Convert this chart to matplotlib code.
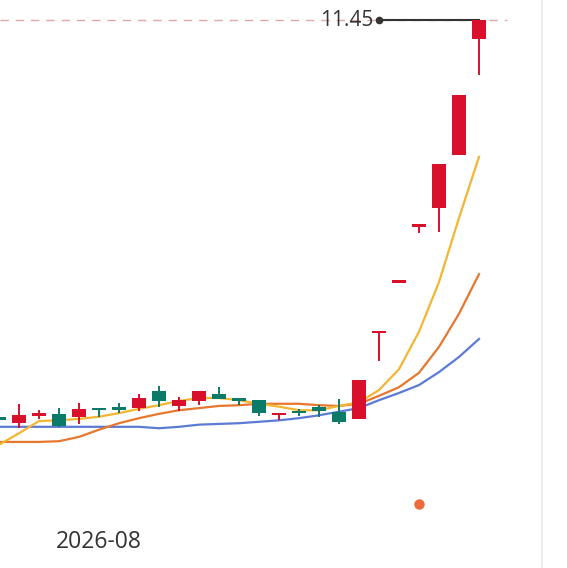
"""K-line snapshot: candles with MA5/MA10/MA20 and high marker."""
import matplotlib
matplotlib.use("Agg")
import matplotlib.pyplot as plt
import matplotlib.transforms as mtransforms
import numpy as np

# candles, index 0 = partial candle at the left edge
opens = [5.94, 5.85, 5.95, 5.98, 5.94, 6.05, 6.05, 6.06, 6.30, 6.09, 6.16, 6.26, 6.17,
         6.17, 5.96, 6.01, 6.08, 6.01, 5.91, 7.10, 7.80, 8.58, 8.84, 9.58, 11.19]
highs = [5.95, 6.12, 6.03, 6.06, 6.13, 6.05, 6.13, 6.26, 6.37, 6.21, 6.30, 6.35, 6.20,
         6.17, 5.99, 6.05, 6.10, 6.19, 6.45, 7.10, 7.80, 8.58, 9.45, 10.41, 11.45]
lows = [5.88, 5.78, 5.91, 5.80, 5.84, 5.94, 5.99, 6.02, 6.08, 6.02, 6.10, 6.19, 6.10,
        5.95, 5.89, 5.95, 5.94, 5.84, 5.91, 6.71, 7.80, 8.49, 8.51, 9.58, 10.69]
closes = [5.89, 5.96, 5.99, 5.81, 6.05, 6.03, 6.04, 6.20, 6.16, 6.17, 6.30, 6.19, 6.16,
          5.99, 5.99, 5.99, 6.02, 5.87, 6.45, 7.10, 7.80, 8.58, 9.45, 10.41, 11.45]

ma5 = [5.55, 5.71, 5.88, 5.89, 5.91, 5.94, 5.99, 6.05, 6.10, 6.16, 6.20, 6.20, 6.17,
       6.12, 6.08, 6.03, 6.03, 6.09, 6.14, 6.31, 6.60, 7.12, 7.81, 8.70, 9.55]
ma10 = [5.59, 5.59, 5.59, 5.60, 5.66, 5.76, 5.85, 5.92, 5.98, 6.03, 6.06, 6.09, 6.10,
        6.12, 6.12, 6.12, 6.10, 6.09, 6.12, 6.23, 6.35, 6.55, 6.91, 7.37, 7.92]
ma20 = [5.80, 5.80, 5.80, 5.80, 5.80, 5.80, 5.80, 5.80, 5.78, 5.80, 5.83, 5.84, 5.85,
        5.87, 5.89, 5.92, 5.96, 6.01, 6.06, 6.17, 6.27, 6.38, 6.56, 6.77, 7.02]

month_label = "2026-08"
month_start_idx = 5
high_label_idx = 19
event_idx = 21
event_price = 4.73

RED = "#d8102b"
GREEN = "#0b7a69"

fig = plt.figure(figsize=(5.67, 5.68), dpi=100)
ax = fig.add_axes([0, 0, 1, 1])
ax.set_xlim(0.05, 28.4)
ax.set_ylim(3.839, 11.728)
ax.axis("off")

x = np.arange(len(closes))
o = np.array(opens)
c = np.array(closes)
up = c >= o
colors = np.where(up, RED, GREEN)

# moving averages
ax.plot(x, ma20, color="#5b7bd5", lw=1.6, zorder=2)
ax.plot(x, ma10, color="#e8772e", lw=1.6, zorder=2)
ax.plot(x, ma5, color="#f2b632", lw=1.6, zorder=2)

# candles
ax.vlines(x, lows, highs, colors=colors, lw=1.4, zorder=3)
bottoms = np.minimum(o, c)
heights = np.maximum(np.abs(c - o), 0.035)
ax.bar(x, heights, bottom=bottoms, width=0.7, color=colors, linewidth=0, zorder=4)

# highest price marker
hi_idx = int(np.argmax(highs))
hi = highs[hi_idx]
ax.axhline(hi, xmin=0, xmax=(25.4 - 0.05) / (28.4 - 0.05), color="#e3a6a6",
           lw=1.0, ls=(0, (6, 5)), zorder=1)
ax.plot([high_label_idx, hi_idx], [hi, hi], color="#333333", lw=1.5, zorder=3)
ax.plot([high_label_idx], [hi], "o", color="#333333", ms=4.5, zorder=3)
ax.text(high_label_idx - 0.3, hi, f"{hi:.2f}", ha="right", va="center",
        fontsize=15, color="#333333", family="Open Sans")

ax.plot([event_idx], [event_price], "o", color="#ee6a3c", ms=6.5, zorder=3)

# month label on x axis
trans = mtransforms.blended_transform_factory(ax.transData, ax.transAxes)
ax.text(month_start_idx, 0.046, month_label, transform=trans, ha="center", va="center",
        fontsize=16.5, color="#333333", family="Open Sans")

# right border
ax.axvline(27.15, color="#ebebeb", lw=1.2)

fig.savefig("out.png", dpi=100)
plt.close(fig)
